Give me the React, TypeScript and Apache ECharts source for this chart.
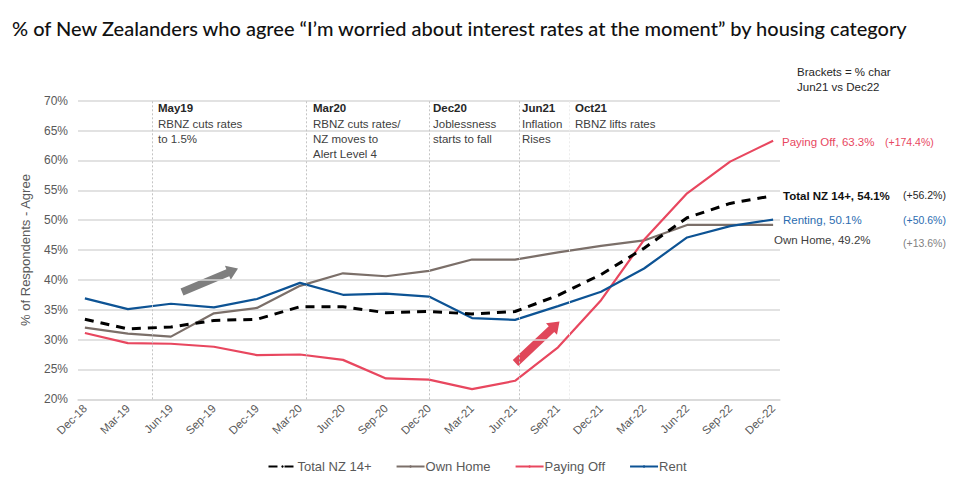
import React, { useEffect, useRef } from "react";
import * as echarts from "echarts";

const categories = ["Dec-18","Mar-19","Jun-19","Sep-19","Dec-19","Mar-20","Jun-20","Sep-20","Dec-20","Mar-21","Jun-21","Sep-21","Dec-21","Mar-22","Jun-22","Sep-22","Dec-22"];
const totalNZ = [33.4, 31.8, 32.1, 33.2, 33.4, 35.5, 35.5, 34.5, 34.7, 34.3, 34.7, 37.4, 40.9, 45.3, 50.4, 52.8, 54.1];
const ownHome = [32.0, 31.0, 30.5, 34.4, 35.3, 39.0, 41.1, 40.6, 41.5, 43.4, 43.4, 44.6, 45.7, 46.6, 49.2, 49.2, 49.2];
const payingOff = [31.1, 29.4, 29.3, 28.8, 27.4, 27.5, 26.6, 23.5, 23.3, 21.7, 23.1, 28.7, 36.6, 46.7, 54.5, 59.8, 63.3];
const rent = [36.9, 35.1, 36.0, 35.4, 36.8, 39.5, 37.5, 37.7, 37.2, 33.6, 33.3, 35.6, 38.0, 41.9, 47.1, 49.0, 50.1];

const eventPositions = [1.57, 5.14, 8.0, 10.1, 11.26];
const eventNotes = [
  { title: "May19", lines: ["RBNZ cuts rates", "to 1.5%"] },
  { title: "Mar20", lines: ["RBNZ cuts rates/", "NZ moves to", "Alert Level 4"] },
  { title: "Dec20", lines: ["Joblessness", "starts to fall"] },
  { title: "Jun21", lines: ["Inflation", "Rises"] },
  { title: "Oct21", lines: ["RBNZ lifts rates"] },
];

const FONT = "'Liberation Sans', Arial, sans-serif";

function arrowPoints(x1: number, y1: number, x2: number, y2: number, w: number, hl: number, hw: number) {
  const dx = x2 - x1, dy = y2 - y1;
  const len = Math.sqrt(dx * dx + dy * dy);
  const ux = dx / len, uy = dy / len;
  const nx = -uy, ny = ux;
  const bx = x2 - ux * hl, by = y2 - uy * hl;
  return [
    [x1 + nx * w / 2, y1 + ny * w / 2],
    [bx + nx * w / 2, by + ny * w / 2],
    [bx + nx * hw / 2, by + ny * hw / 2],
    [x2, y2],
    [bx - nx * hw / 2, by - ny * hw / 2],
    [bx - nx * w / 2, by - ny * w / 2],
    [x1 - nx * w / 2, y1 - ny * w / 2],
  ];
}

function txt(x: number, y: number, text: string, size: number, fill: string, weight = "normal", align = "left") {
  return {
    type: "text",
    x, y,
    silent: true,
    style: {
      text,
      font: `${weight} ${size}px ${FONT}`,
      fill,
      textAlign: align,
      textVerticalAlign: "middle",
    },
  };
}

export default function App() {
  const ref = useRef<HTMLDivElement>(null);
  useEffect(() => {
    if (!ref.current) return;
    const chart = echarts.init(ref.current, null, { renderer: "svg" });
    const toPairs = (arr: number[]) => arr.map((v, i) => [i, v]);

    const noteX = [158, 313, 433, 522, 575];
    const graphics: any[] = [];
    eventNotes.forEach((n, k) => {
      graphics.push(txt(noteX[k], 108, n.title, 11.5, "#262626", "bold"));
      n.lines.forEach((l, j) => {
        graphics.push(txt(noteX[k], 123.5 + j * 15, l, 11.5, "#404040"));
      });
    });
    graphics.push(
      {
        type: "text", x: 12, y: 28, silent: true,
        style: { text: "% of New Zealanders who agree \u201CI\u2019m worried about interest rates at the moment\u201D by housing category", font: `500 20px Lato, 'Noto Sans', sans-serif`, fill: "#111", textVerticalAlign: "middle" },
      },
      txt(797, 72, "Brackets = % char", 11.5, "#262626"),
      txt(797, 87, "Jun21 vs Dec22", 11.5, "#262626"),
      txt(782, 141.5, "Paying Off, 63.3%", 11.5, "#e8475f"),
      txt(885, 141.5, "(+174.4%)", 10.5, "#e8475f"),
      txt(783, 196, "Total NZ 14+, 54.1%", 11.5, "#111", "bold"),
      txt(903, 195, "(+56.2%)", 10.5, "#262626"),
      txt(783, 220, "Renting, 50.1%", 11.5, "#2c6db0"),
      txt(903, 219.5, "(+50.6%)", 10.5, "#2c6db0"),
      txt(774, 240, "Own Home, 49.2%", 11.5, "#404040"),
      txt(903, 243, "(+13.6%)", 10.5, "#7f7f7f"),
      {
        type: "polygon", silent: true,
        shape: { points: arrowPoints(182, 292, 238, 268.5, 7.5, 11, 15) },
        style: { fill: "#7f7f7f" },
      },
      {
        type: "polygon", silent: true,
        shape: { points: arrowPoints(515.5, 363, 559.5, 321.5, 8, 11, 16) },
        style: { fill: "#e0475a" },
      }
    );

    const option: any = {
      animation: false,
      backgroundColor: "#ffffff",
      grid: { left: 78, right: 174, top: 100.7, bottom: 86.7, containLabel: false },
      xAxis: {
        type: "value",
        min: -0.16,
        max: 16.16,
        axisLine: { show: true, lineStyle: { color: "#d9d9d9", width: 1.5 } },
        axisTick: { show: false },
        splitLine: { show: false },
        axisLabel: {
          customValues: categories.map((_, i) => i),
          formatter: (v: number) => categories[Math.round(v)] ?? "",
          rotate: 45,
          color: "#595959",
          fontSize: 11.5,
          fontFamily: FONT,
          margin: 7,
        },
      },
      yAxis: {
        type: "value",
        min: 20,
        max: 70,
        interval: 5,
        name: "% of Respondents - Agree",
        nameLocation: "middle",
        nameGap: 46,
        nameTextStyle: { color: "#595959", fontSize: 13, fontFamily: FONT },
        axisLine: { show: false },
        axisTick: { show: false },
        axisLabel: { formatter: "{value}%", color: "#595959", fontSize: 12, fontFamily: FONT, margin: 10 },
        splitLine: { lineStyle: { color: "#d9d9d9", width: 1.5 } },
      },
      legend: {
        top: 455,
        left: "center",
        itemGap: 24,
        itemWidth: 28,
        itemHeight: 3,
        textStyle: { color: "#595959", fontSize: 13, fontFamily: FONT, padding: [0, 0, 0, -4] },
        data: ["Total NZ 14+", "Own Home", "Paying Off", "Rent"],
      },
      graphic: graphics,
      series: [
        {
          name: "Own Home", type: "line", data: toPairs(ownHome), symbol: "none",
          lineStyle: { color: "#7b6f69", width: 2.2 }, itemStyle: { color: "#7b6f69" }, z: 2,
        },
        {
          name: "Paying Off", type: "line", data: toPairs(payingOff), symbol: "none",
          lineStyle: { color: "#e8475f", width: 2.2 }, itemStyle: { color: "#e8475f" }, z: 3,
        },
        {
          name: "Rent", type: "line", data: toPairs(rent), symbol: "none",
          lineStyle: { color: "#0d5394", width: 2.2 }, itemStyle: { color: "#0d5394" }, z: 4,
        },
        {
          name: "Total NZ 14+", type: "line", data: toPairs(totalNZ), symbol: "none",
          lineStyle: { color: "#000000", width: 3, type: [9, 7] }, itemStyle: { color: "#000000" }, z: 5,
          markLine: {
            silent: true,
            symbol: "none",
            label: { show: false },
            lineStyle: { color: "#c4c4c4", width: 1, type: [2, 2] },
            data: eventPositions.map((p, k) => ({ xAxis: p, lineStyle: k === 4 ? { color: "#ececec" } : undefined })),
          },
        },
      ],
    };
    chart.setOption(option);
    return () => chart.dispose();
  }, []);
  return <div ref={ref} style={{ position: "fixed", left: 0, top: 0, width: 954, height: 486, background: "#fff" }} />;
}
